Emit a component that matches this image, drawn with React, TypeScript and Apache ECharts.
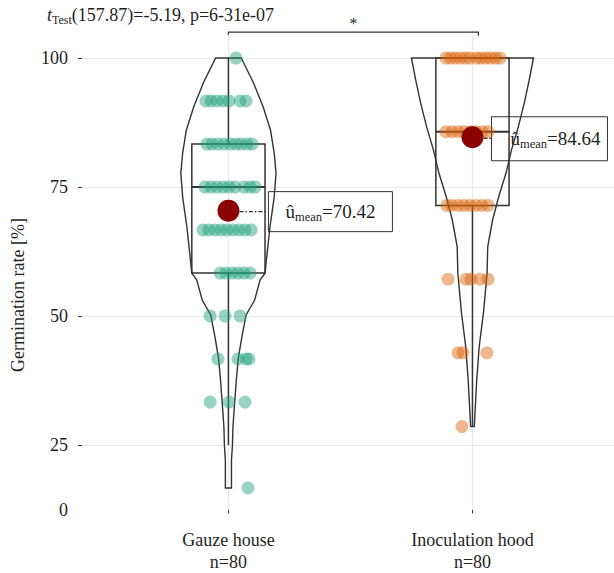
import React, { useEffect, useRef } from "react";
import * as echarts from "echarts";

// ---------- data ----------
const categories = ["Gauze house", "Inoculation hood"];
const sampleSizes = [80, 80];
const means = [70.42, 84.64];
const statsTitleMain = "(157.87)=-5.19, p=6-31e-07";
const significance = "*";

// y-axis labels as printed on the reference (bottom label printed as "0")
const yLabelValues = [12.5, 25, 50, 75, 100];
const yLabelTexts = ["0", "25", "50", "75", "100"];
const yTickValues = [25, 50, 75, 100];

// boxplot stats [min, Q1, median, Q3, max]
const boxGauze = [25, 58.33, 75, 83.33, 100];
const boxHood = [28.57, 71.43, 85.71, 100, 100];

// violin outlines: value and relative density
const violinGauzeValues = [100, 95.2, 90.5, 86, 81.6, 77.7, 73, 67.2, 58.3, 57, 53.1, 50.2, 45.9, 41.7, 37.6, 32.9, 28.5, 25, 22.1, 16.67];
const violinGauzeDensity = [0.21, 0.41, 0.57, 0.69, 0.75, 0.78, 0.75, 0.68, 0.6, 0.52, 0.43, 0.29, 0.22, 0.16, 0.13, 0.1, 0.074, 0.066, 0.05, 0.05];
const violinHoodValues = [100, 95.7, 91.3, 86.6, 82.2, 77.7, 73.1, 68.6, 63.4, 58.3, 50.6, 44, 37.6, 28.57];
const violinHoodDensity = [1.0, 0.93, 0.85, 0.75, 0.64, 0.55, 0.43, 0.33, 0.25, 0.24, 0.18, 0.11, 0.07, 0.03];

// jittered points: [value, horizontal jitter]
const pointsGauze: number[][] = [
  [100, 0.031],
  [91.67, -0.092], [91.67, -0.071], [91.67, -0.047], [91.67, -0.022], [91.67, 0.002], [91.67, 0.048], [91.67, 0.072],
  [83.33, -0.088], [83.33, -0.067], [83.33, -0.043], [83.33, -0.018], [83.33, 0.007], [83.33, 0.031], [83.33, 0.052], [83.33, 0.076], [83.33, 0.097],
  [75, -0.096], [75, -0.071], [75, -0.047], [75, -0.022], [75, 0.002], [75, 0.027], [75, 0.064], [75, 0.089], [75, 0.109],
  [66.67, -0.104], [66.67, -0.08], [66.67, -0.055], [66.67, -0.03], [66.67, -0.006], [66.67, 0.019], [66.67, 0.043], [66.67, 0.068], [66.67, 0.093],
  [58.33, -0.034], [58.33, -0.01], [58.33, 0.015], [58.33, 0.039], [58.33, 0.064], [58.33, 0.089],
  [50, -0.075], [50, -0.014], [50, 0.048],
  [41.67, -0.043], [41.67, 0.039], [41.67, 0.072], [41.67, 0.084],
  [33.33, -0.075], [33.33, 0.002], [33.33, 0.068],
  [16.67, 0.08],
];
const pointsHood: number[][] = [
  [100, -0.109], [100, -0.09], [100, -0.07], [100, -0.05], [100, -0.03], [100, -0.012],
  [100, 0.016], [100, 0.034], [100, 0.054], [100, 0.074], [100, 0.094], [100, 0.113],
  [85.71, -0.109], [85.71, -0.084], [85.71, -0.059], [85.71, -0.035], [85.71, -0.01], [85.71, 0.014], [85.71, 0.039], [85.71, 0.064],
  [71.43, -0.105], [71.43, -0.084], [71.43, -0.059], [71.43, -0.035], [71.43, -0.01], [71.43, 0.014], [71.43, 0.039], [71.43, 0.064],
  [57.14, -0.1], [57.14, -0.027], [57.14, -0.006], [57.14, 0.031], [57.14, 0.064],
  [42.86, -0.059], [42.86, -0.039], [42.86, 0.059],
  [28.57, -0.043],
];

// ---------- styling ----------
const FONT = "Liberation Serif";
const TEXT = "#1f1f1f";
const LINE = "#333333";
const colors = ["#1B9E77", "#D95F02"];
const violinScale = 0.25;
const boxHalf = 0.15;

export default function App() {
  const ref = useRef<HTMLDivElement>(null);
  useEffect(() => {
    const chart = echarts.init(ref.current!, null, { renderer: "svg" });
    const violinValues = [violinGauzeValues, violinHoodValues];
    const violinDensity = [violinGauzeDensity, violinHoodDensity];

    const option: any = {
      animation: false,
      grid: { left: 82, right: 0, top: -6.5, bottom: 63.5, outerBoundsMode: "none", containLabel: false },
      xAxis: {
        type: "value",
        min: 0.4,
        max: 2.58,
        axisLine: { show: false },
        splitLine: { show: false },
        axisTick: { show: true, customValues: [1, 2], length: 4, lineStyle: { color: LINE, width: 1 } },
        axisLabel: {
          customValues: [1, 2],
          formatter: (v: number) => {
            const i = Math.round(v) - 1;
            return `${categories[i]}\nn=${sampleSizes[i]}`;
          },
          fontFamily: FONT,
          fontSize: 18,
          lineHeight: 22,
          color: TEXT,
          margin: 19,
        },
      },
      yAxis: {
        type: "value",
        min: 12.5,
        max: 112.5,
        interval: 12.5,
        axisLine: { show: false },
        axisTick: { show: true, customValues: yTickValues, length: 4, lineStyle: { color: LINE, width: 1 } },
        splitLine: { show: true, lineStyle: { color: "#e9e9e9", width: 1.2 } },
        axisLabel: {
          customValues: yLabelValues,
          formatter: (v: number) => {
            const i = yLabelValues.indexOf(v);
            return i >= 0 ? yLabelTexts[i] : "";
          },
          fontFamily: FONT,
          fontSize: 18,
          color: TEXT,
          margin: 14,
        },
      },
      series: [
        {
          type: "custom",
          name: "xgrid",
          silent: true,
          z: 1,
          data: [[1, 100], [2, 100]],
          encode: { x: 0, y: 1 },
          renderItem: (params: any, api: any) => {
            const x = api.value(0);
            const a = api.coord([x, 12.5]);
            const b = api.coord([x, 104.5]);
            return {
              type: "line",
              shape: { x1: a[0], y1: a[1], x2: b[0], y2: b[1] },
              style: { stroke: "#e9e9e9", lineWidth: 1.2 },
            };
          },
        },
        {
          type: "custom",
          name: "violin",
          silent: true,
          z: 2,
          data: [[1, 100], [2, 100]],
          encode: { x: 0, y: 1 },
          renderItem: (params: any, api: any) => {
            const idx = params.dataIndex;
            const c = api.value(0);
            const vals = violinValues[idx];
            const dens = violinDensity[idx];
            const right = vals.map((v, i) => api.coord([c + dens[i] * violinScale, v]));
            const left = vals.map((v, i) => api.coord([c - dens[i] * violinScale, v])).reverse();
            return {
              type: "polygon",
              shape: { points: right.concat(left) },
              style: { fill: "none", stroke: LINE, lineWidth: 1.4 },
            };
          },
        },
        {
          type: "custom",
          name: "box",
          silent: true,
          z: 3,
          data: [[1, ...boxGauze], [2, ...boxHood]],
          encode: { x: 0, y: [1, 2, 3, 4, 5] },
          renderItem: (params: any, api: any) => {
            const c = api.value(0);
            const mn = api.value(1), q1 = api.value(2), md = api.value(3), q3 = api.value(4), mx = api.value(5);
            const tl = api.coord([c - boxHalf, q3]);
            const br = api.coord([c + boxHalf, q1]);
            const ml = api.coord([c - boxHalf, md]);
            const mr = api.coord([c + boxHalf, md]);
            const wTop = api.coord([c, mx]);
            const wQ3 = api.coord([c, q3]);
            const wQ1 = api.coord([c, q1]);
            const wBot = api.coord([c, mn]);
            const st = { stroke: LINE, lineWidth: 1.5, fill: "none" };
            return {
              type: "group",
              children: [
                { type: "rect", shape: { x: tl[0], y: tl[1], width: br[0] - tl[0], height: br[1] - tl[1] }, style: st },
                { type: "line", shape: { x1: ml[0], y1: ml[1], x2: mr[0], y2: mr[1] }, style: { ...st, lineWidth: 1.8 } },
                { type: "line", shape: { x1: wTop[0], y1: wTop[1], x2: wQ3[0], y2: wQ3[1] }, style: st },
                { type: "line", shape: { x1: wQ1[0], y1: wQ1[1], x2: wBot[0], y2: wBot[1] }, style: st },
              ],
            };
          },
        },
        {
          type: "scatter",
          name: categories[0],
          z: 4,
          symbolSize: 13,
          itemStyle: { color: colors[0], opacity: 0.45 },
          data: pointsGauze.map(([v, j]) => [1 + j, v]),
        },
        {
          type: "scatter",
          name: categories[1],
          z: 4,
          symbolSize: 13,
          itemStyle: { color: colors[1], opacity: 0.45 },
          data: pointsHood.map(([v, j]) => [2 + j, v]),
        },
        {
          type: "scatter",
          name: "mean",
          z: 5,
          symbolSize: 22,
          itemStyle: { color: "#8B0000", opacity: 1 },
          data: means.map((m, i) => [i + 1, m]),
        },
      ],
    };
    chart.setOption(option);

    const px = (x: number, y: number) => chart.convertToPixel({ gridIndex: 0 } as any, [x, y]) as number[];
    const m0 = px(1, means[0]);
    const m1 = px(2, means[1]);
    const b1 = px(1, 105);
    const b2 = px(2, 105);
    const bx2 = b2[0] + 6;

    const labelRich = {
      a: { fontFamily: FONT, fontSize: 19, lineHeight: 24, fill: TEXT },
      s: { fontFamily: FONT, fontSize: 12.5, lineHeight: 9, verticalAlign: "bottom", fill: TEXT },
    };

    chart.setOption({
      graphic: [
        {
          type: "text",
          x: 47,
          y: 4,
          style: {
            text: `{i|t}{s|Test}{n|${statsTitleMain}}`,
            rich: {
              i: { fontFamily: FONT, fontStyle: "italic", fontSize: 18, lineHeight: 22, fill: TEXT },
              s: { fontFamily: FONT, fontSize: 12, lineHeight: 8, verticalAlign: "bottom", fill: TEXT },
              n: { fontFamily: FONT, fontSize: 18, lineHeight: 22, fill: TEXT },
            },
          },
        },
        {
          type: "polyline",
          shape: { points: [[b1[0], b1[1] + 3.5], [b1[0], b1[1]], [bx2, b1[1]], [bx2, b1[1] + 3.5]] },
          style: { stroke: LINE, lineWidth: 1.2, fill: "none" },
        },
        {
          type: "text",
          x: (b1[0] + bx2) / 2,
          y: b1[1] - 9,
          style: { text: significance, fontFamily: FONT, fontSize: 16, fill: TEXT, align: "center", verticalAlign: "middle" },
        },
        {
          type: "text",
          x: 18,
          y: 295,
          rotation: Math.PI / 2,
          style: {
            text: "Germination rate [%]",
            fontFamily: FONT,
            fontSize: 18,
            fill: TEXT,
            align: "center",
            verticalAlign: "middle",
          },
        },
        // left mean annotation
        {
          type: "line",
          shape: { x1: m0[0] + 11, y1: m0[1] + 1, x2: m0[0] + 40, y2: m0[1] + 1 },
          style: { stroke: LINE, lineWidth: 1.3, lineDash: [4, 2, 1.5, 2] },
        },
        {
          type: "rect",
          shape: { x: m0[0] + 40, y: m0[1] - 19, width: 124, height: 40 },
          style: { fill: "#ffffff", stroke: LINE, lineWidth: 1 },
        },
        {
          type: "text",
          x: m0[0] + 57,
          y: m0[1] + 1,
          style: { text: `{a|û}{s|mean}{a|=${means[0].toFixed(2)}}`, rich: labelRich, verticalAlign: "middle" },
        },
        // right mean annotation
        {
          type: "line",
          shape: { x1: m1[0] + 11, y1: m1[1] + 1, x2: m1[0] + 19, y2: m1[1] + 1 },
          style: { stroke: LINE, lineWidth: 1.3, lineDash: [4, 2, 1.5, 2] },
        },
        {
          type: "rect",
          shape: { x: m1[0] + 19, y: m1[1] - 20.5, width: 116, height: 44 },
          style: { fill: "#ffffff", stroke: LINE, lineWidth: 1 },
        },
        {
          type: "text",
          x: m1[0] + 38,
          y: m1[1] + 1.5,
          style: { text: `{a|û}{s|mean}{a|=${means[1].toFixed(2)}}`, rich: labelRich, verticalAlign: "middle" },
        },
      ],
    });

    return () => chart.dispose();
  }, []);
  return <div ref={ref} style={{ position: "absolute", left: 0, top: 0, width: 614, height: 573 }} />;
}
